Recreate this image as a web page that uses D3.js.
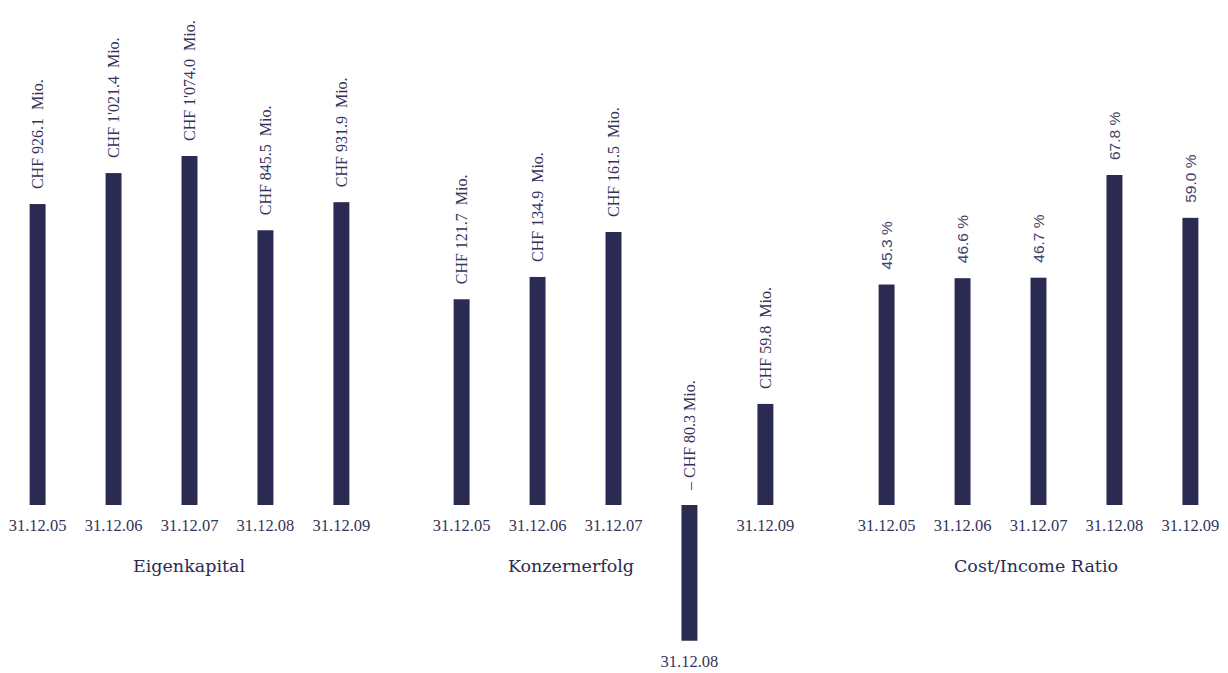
<!DOCTYPE html>
<html>
<head>
<meta charset="utf-8">
<script src="https://cdn.jsdelivr.net/npm/d3@7"></script>
<style>
  body { margin: 0; background: #fff; }
  svg { display: block; }
  .val { font-family: "Liberation Serif", serif; font-size: 16px; fill: #34335a; }
  .pct { font-family: "Liberation Sans", sans-serif; font-size: 15.5px; fill: #45446a; }
  .cat { font-family: "Liberation Serif", serif; font-size: 16.5px; fill: #34335a; }
  .title { font-family: "DejaVu Serif", serif; font-size: 17.5px; fill: #2b2a52; }
</style>
</head>
<body>
<div id="chart"></div>
<script>
// data
var dates = ["31.12.05", "31.12.06", "31.12.07", "31.12.08", "31.12.09"];
var eigenkapital = [926.1, 1021.4, 1074.0, 845.5, 931.9];
var konzernerfolg = [121.7, 134.9, 161.5, -80.3, 59.8];
var costIncome = [45.3, 46.6, 46.7, 67.8, 59.0];
var titles = ["Eigenkapital", "Konzernerfolg", "Cost/Income Ratio"];

var W = 1228, H = 673;
var base = 505;
var color = "#2b2a52";

var svg = d3.select("#chart").append("svg")
    .attr("width", W)
    .attr("height", H);

// format helpers for labels
function chf(v) {
    var s = Math.abs(v).toFixed(1);
    if (Math.abs(v) >= 1000) s = s.replace(/^(\d)(\d{3})/, "$1'$2");
    return (v < 0 ? "\u2013 CHF " : "CHF ") + s + (v < 0 ? " Mio." : "  Mio.");
}
function pct(v) { return v.toFixed(1) + " %"; }

// each panel has its own scale
var panels = [
    {values: eigenkapital, x0: 0,   x1: 379, top: 156, fmt: chf, cls: "val", titleX: 189},
    {values: konzernerfolg, x0: 424, x1: 803, top: 232, fmt: chf, cls: "val", titleX: 571},
    {values: costIncome, x0: 849, x1: 1228, top: 175, fmt: pct, cls: "pct", titleX: 1036}
];

panels.forEach(function(p, pi) {
    var x = d3.scaleBand()
        .domain(dates)
        .range([p.x0, p.x1])
        .paddingInner(0.79)
        .paddingOuter(0.39);

    var y = d3.scaleLinear()
        .domain([0, d3.max(p.values)])
        .range([base, p.top]);

    var g = svg.append("g");
    var data = dates.map(function(d, i) { return {date: d, v: p.values[i]}; });

    g.selectAll("rect")
        .data(data)
        .enter()
        .append("rect")
        .attr("x", d => x(d.date))
        .attr("width", x.bandwidth())
        .attr("y", d => Math.min(y(d.v), y(0)))
        .attr("height", d => Math.abs(y(d.v) - y(0)))
        .attr("fill", color);

    // value labels, rotated, sit above the bar (or above baseline if negative)
    g.selectAll("text.lbl")
        .data(data)
        .enter()
        .append("text")
        .attr("class", p.cls + " lbl")
        .attr("transform", function(d) {
            var cx = x(d.date) + x.bandwidth() / 2;
            var ty = Math.min(y(d.v), y(0)) - 15;
            return "translate(" + cx + "," + ty + ") rotate(-90)";
        })
        .attr("dy", "0.35em")
        .style("white-space", "pre")
        .text(d => p.fmt(d.v));

    // date labels under the bar
    g.selectAll("text.cat")
        .data(data)
        .enter()
        .append("text")
        .attr("class", "cat")
        .attr("x", d => x(d.date) + x.bandwidth() / 2)
        .attr("y", d => (d.v < 0 ? y(d.v) : y(0)) + 26)
        .attr("text-anchor", "middle")
        .text(d => d.date);

    g.append("text")
        .attr("class", "title")
        .attr("x", p.titleX)
        .attr("y", 572)
        .attr("text-anchor", "middle")
        .text(titles[pi]);
});
</script>
</body>
</html>
